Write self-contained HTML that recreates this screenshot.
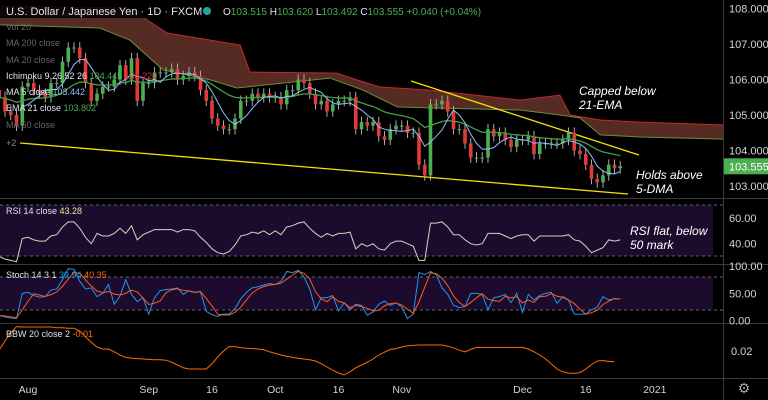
<!DOCTYPE html>
<html><head><meta charset="utf-8"><style>
html,body{margin:0;padding:0;background:#000;width:768px;height:400px;overflow:hidden}
svg{display:block;font-family:"Liberation Sans",sans-serif}
</style></head><body>
<svg id="c" width="768" height="400" viewBox="0 0 768 400">
<rect x="0" y="0" width="768" height="400" fill="#000"/>
<g id="cloud"></g>
<g id="lines">
<line x1="411" y1="81" x2="639" y2="155" stroke="#f5e400" stroke-width="1.3"/>
<line x1="20" y1="143" x2="628" y2="194" stroke="#f5e400" stroke-width="1.3"/>
</g>
<g id="candles"></g>
<g id="mas"></g>
<rect x="0" y="205" width="713" height="51" fill="#1c0b2c"/>
<rect x="0" y="277" width="713" height="33" fill="#1c0b2c"/>
<g stroke="#666" stroke-dasharray="3,3" stroke-width="1">
<line x1="0" y1="205" x2="723" y2="205"/>
<line x1="0" y1="256" x2="723" y2="256"/>
<line x1="0" y1="277" x2="723" y2="277"/>
<line x1="0" y1="310" x2="723" y2="310"/>
</g>
<g id="ind"></g>
<g stroke="#3a3a3a" stroke-width="1">
<line x1="0" y1="198.5" x2="768" y2="198.5"/>
<line x1="0" y1="264.5" x2="768" y2="264.5"/>
<line x1="0" y1="323.5" x2="768" y2="323.5"/>
<line x1="0" y1="378.5" x2="768" y2="378.5"/>
<line x1="723.5" y1="0" x2="723.5" y2="400"/>
</g>
<g id="axis" fill="#d1d4dc" font-size="11"></g>
<g id="xaxis" fill="#d1d4dc" font-size="10.5" text-anchor="middle"></g>
<text x="744" y="393" fill="#aaa" font-size="14" text-anchor="middle">⚙</text>
<rect x="0" y="0" width="200" height="18" fill="#000" opacity="0.85"/>
<g font-size="11">
<text x="6" y="15" fill="#e0e3eb">U.S. Dollar / Japanese Yen · 1D · FXCM</text>
<circle cx="207" cy="11" r="4" fill="#26a69a"/>
<text x="223" y="15" font-size="10" fill="#e0e3eb">O<tspan fill="#4caf50">103.515</tspan> H<tspan fill="#4caf50">103.620</tspan> L<tspan fill="#4caf50">103.492</tspan> C<tspan fill="#4caf50">103.555</tspan> <tspan fill="#4caf50">+0.040 (+0.04%)</tspan></text>
</g>
<g font-size="9">
<text x="6" y="30" fill="#666">Vol 20</text>
<text x="6" y="46" fill="#666">MA 200 close</text>
<text x="6" y="63" fill="#666">MA 20 close</text>
<text x="6" y="79" fill="#e0e3eb">Ichimoku 9 26 52 26 <tspan fill="#4caf50">104.445</tspan> <tspan fill="#d32f2f">104.220</tspan></text>
<text x="6" y="95" fill="#e0e3eb">MA 5 close <tspan fill="#90bff9">103.442</tspan></text>
<text x="6" y="111" fill="#e0e3eb">EMA 21 close <tspan fill="#4caf50">103.802</tspan></text>
<text x="6" y="128" fill="#666">MA 50 close</text>
<text x="6" y="146" fill="#888">+2</text>
<text x="6" y="214" fill="#e0e3eb">RSI 14 close <tspan fill="#f0e6a0">43.28</tspan></text>
<text x="6" y="278" fill="#e0e3eb">Stoch 14 3 1 <tspan fill="#2196f3">39.94</tspan> <tspan fill="#ff6d00">40.35</tspan></text>
<text x="6" y="337" fill="#e0e3eb">BBW 20 close 2 <tspan fill="#ff6d00">-0.01</tspan></text>
</g>
<g font-size="12" font-style="italic" fill="#fff">
<text x="579" y="95">Capped below</text>
<text x="579" y="109">21-EMA</text>
<text x="636" y="179">Holds above</text>
<text x="636" y="193">5-DMA</text>
<text x="630" y="235">RSI flat, below</text>
<text x="630" y="249">50 mark</text>
</g>
</svg>
<script>
const closes=[105.5,105.1,105.0,104.7,105.8,
105.9,105.7,105.6,105.5,105.9,105.9,106.5,106.9,106.9,106.6,105.9,105.4,105.6,105.8,105.8,106.0,106.4,106.0,106.6,105.4,105.9,
105.9,106.2,106.2,106.2,106.3,106.0,106.1,106.2,106.1,105.7,105.4,104.9,104.7,104.6,104.6,104.9,105.4,105.4,105.6,105.5,105.6,105.5,
105.5,105.3,105.7,105.7,106.0,105.9,105.6,105.3,105.4,105.1,105.3,105.4,105.4,105.5,104.6,104.8,104.7,104.8,104.4,104.3,104.6,104.7,
104.7,104.5,104.5,103.6,103.3,105.3,105.3,105.4,105.1,104.6,104.6,104.2,103.8,103.8,103.8,104.6,104.4,104.5,104.3,104.1,104.3,
104.3,104.4,103.9,104.2,104.2,104.2,104.2,104.3,104.5,104.0,103.9,103.6,103.2,103.1,103.3,103.6,103.5,103.555];
const cloudTopIdx=[0,23.6,25.7,29.2,41.9,43.6,58.7,62.2,66.2,74.9,90.6,97.5,99.3,104.5,111.4,126];
const cloudTop=[108.07,108.01,107.68,107.31,106.97,106.21,106.18,105.99,105.79,105.70,105.42,105.56,105.0,104.86,104.80,104.72];
const cloudBotIdx=[0,17.5,22.7,28.5,36.7,41.3,57.5,63.3,69.2,74.9,90.6,97.5,101,104.5,111.4,126];
const cloudBot=[107.54,107.45,107.11,106.27,105.99,105.76,106.04,105.70,105.23,105.20,105.14,105.0,104.92,104.44,104.38,104.32];
const rsi=[30,28,27,26,44,45,43,42,42,46,47,53,57,57,52,45,40,48,46,46,48,52,48,54,43,47,49,51,51,51,51,49,51,51,50,45,41,36,33,32,34,39,46,47,49,48,50,47,50,47,53,54,56,57,52,48,45,48,46,48,48,49,36,40,38,40,36,35,40,42,42,40,38,27,27,56,56,57,53,47,47,43,40,39,40,48,48,48,46,44,46,47,47,42,46,46,46,46,46,47,43,42,38,33,35,37,43,42,43];
const stochK=[10,7,5,4,50,52,46,43,44,56,58,75,95,94,72,58,60,44,50,66,30,45,75,48,35,42,12,42,55,57,58,60,48,55,52,53,17,11,8,12,12,22,40,52,60,62,65,68,66,72,90,88,92,80,58,20,42,42,46,18,33,20,30,28,10,16,30,36,28,33,25,4,12,88,84,90,84,60,48,28,24,26,50,50,48,20,42,44,48,33,50,15,48,38,46,50,52,32,44,38,12,12,12,20,25,44,38,40,40];
const bbw=[.0203,.0225,.0245,.0261,.026,.026,.026,.026,.026,.026,.0258,.0258,.0257,.0257,.025,.0235,.0222,.021,.0205,.0205,.0198,.019,.0184,.0182,.0181,.018,.0179,.0178,.0178,.0177,.0172,.0165,.0158,.0155,.0155,.0155,.0155,.0168,.0185,.02,.0211,.0211,.0208,.0207,.0206,.0205,.0203,.0198,.0194,.019,.0187,.0184,.0182,.018,.0178,.0175,.0168,.016,.0152,.0145,.014,.0148,.0158,.0165,.0172,.018,.019,.0197,.0204,.0206,.021,.0213,.0214,.0215,.0215,.0215,.0215,.0215,.0212,.0208,.0202,.0198,.0204,.0209,.0209,.0209,.0209,.0209,.0209,.0209,.0209,.0209,.0205,.0198,.019,.018,.0168,.0155,.0148,.0145,.0144,.0146,.0155,.0166,.0175,.0176,.0174,.0173];
const priceTicks=[108,107,106,105,104,103];
const timeLabels=["Aug","Sep","16","Oct","16","Nov","Dec","16","2021"];
const timeIdx=[5,26,37,48,59,70,91,102,114];
const rsiTicks=[60,40];
const stochTicks=["100.00","50.00","0.00"];
const stochTickVals=[100,50,0];

const NS="http://www.w3.org/2000/svg";
const X=i=>28+(i-5)*5.75;
const PY=p=>186-(p-103)*35.5;
const RY=v=>218-(v-60)*1.285;
const SY=v=>320.7-v*0.547;
const BY=v=>351-(v-0.02)*4000;
function mk(tag,attrs,parent){const e=document.createElementNS(NS,tag);for(const k in attrs)e.setAttribute(k,attrs[k]);parent.appendChild(e);return e;}
const G=id=>document.getElementById(id);

let poly=[];
cloudTopIdx.forEach((ix,k)=>poly.push(X(ix)+","+PY(cloudTop[k])));
for(let k=cloudBotIdx.length-1;k>=0;k--)poly.push(X(cloudBotIdx[k])+","+PY(cloudBot[k]));
let cf=mk("polygon",{points:poly.join(" "),fill:"#5a2d26",opacity:"0.95"},G("cloud"));


let ct=mk("polyline",{points:cloudTopIdx.map((ix,k)=>X(ix)+","+PY(cloudTop[k])).join(" "),fill:"none",stroke:"#c62828","stroke-width":1},G("cloud"));


let cb=mk("polyline",{points:cloudBotIdx.map((ix,k)=>X(ix)+","+PY(cloudBot[k])).join(" "),fill:"none",stroke:"#6b8e3a","stroke-width":1},G("cloud"));



for(let i=0;i<closes.length;i++){
  const c=closes[i],o=i>0?closes[i-1]:closes[0]+0.2;
  const up=c>=o,col=up?"#4caf50":"#e53935";
  const hi=Math.max(o,c)+0.15,lo=Math.min(o,c)-0.15;
  const g=mk("g",{},G("candles"));
  
  
  mk("line",{x1:X(i),x2:X(i),y1:PY(hi),y2:PY(lo),stroke:"#aaa","stroke-width":1},g);
  const t=PY(Math.max(o,c)),b=PY(Math.min(o,c));
  mk("rect",{x:X(i)-1.8,y:t,width:3.6,height:Math.max(1,b-t),fill:col},g);
}
let ma=[],ema=[],e=closes[0];
for(let i=0;i<closes.length;i++){
  if(i>=4){let s=0;for(let j=i-4;j<=i;j++)s+=closes[j];ma.push(X(i)+","+PY(s/5));}
  e=i===0?closes[0]:e+(closes[i]-e)*2/22;ema.push(X(i)+","+PY(e));
}
let l1=mk("polyline",{points:ema.join(" "),fill:"none",stroke:"#43a047","stroke-width":1.3},G("mas"));


let l2=mk("polyline",{points:ma.join(" "),fill:"none",stroke:"#90bff9","stroke-width":1},G("mas"));



let r=mk("polyline",{points:rsi.map((v,i)=>X(i)+","+RY(v)).join(" "),fill:"none",stroke:"#d8d2c0","stroke-width":1},G("ind"));


let d=stochK.map((v,i)=>{const a=stochK.slice(Math.max(0,i-2),i+1);return a.reduce((s,x)=>s+x,0)/a.length;});
let sk=mk("polyline",{points:stochK.map((v,i)=>X(i)+","+SY(v)).join(" "),fill:"none",stroke:"#2196f3","stroke-width":1},G("ind"));


let sd=mk("polyline",{points:d.map((v,i)=>X(i)+","+SY(v)).join(" "),fill:"none",stroke:"#ff5a1f","stroke-width":1},G("ind"));


let bb=mk("polyline",{points:bbw.map((v,i)=>X(i)+","+BY(v)).join(" "),fill:"none",stroke:"#ff6d00","stroke-width":1},G("ind"));



priceTicks.forEach(p=>{
  const t=mk("text",{x:729,y:PY(p)+4},G("axis"));t.textContent=p.toFixed(3);
  
  
});
const last=closes[closes.length-1];
let box=mk("rect",{x:724,y:PY(last)-8,width:44,height:16,fill:"#4caf50"},G("axis"));


let lt=mk("text",{x:729,y:PY(last)+4,fill:"#fff"},G("axis"));lt.textContent=last.toFixed(3);


rsiTicks.forEach(v=>{const t=mk("text",{x:729,y:RY(v)+4},G("axis"));t.textContent=v.toFixed(2);
  
  });
stochTicks.forEach((s,k)=>{const t=mk("text",{x:729,y:SY(stochTickVals[k])+4},G("axis"));t.textContent=s;
  
  });
let bt=mk("text",{x:731,y:BY(0.02)+4},G("axis"));bt.textContent="0.02";


timeLabels.forEach((s,k)=>{const t=mk("text",{x:X(timeIdx[k]),y:393},G("xaxis"));t.textContent=s;
  
  });
</script>
</body></html>
